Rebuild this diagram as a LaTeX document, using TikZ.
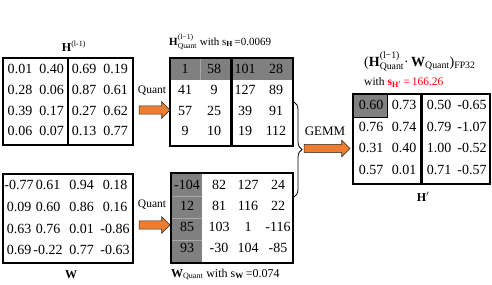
\documentclass[tikz,border=0pt]{standalone}
\usepackage{fontspec}
\usepackage{amsmath}
\setmainfont{Liberation Serif}
\usetikzlibrary{decorations.pathreplacing,shapes.arrows}
\definecolor{orng}{HTML}{ED7D31}
\definecolor{cellgray}{HTML}{808080}
\definecolor{sepgray}{HTML}{A8A8A8}
\definecolor{redtxt}{HTML}{FF0000}
\newcommand\mymatrix[4]{%
  \foreach \rowvals [count=\r from 0] in {#4} {
    \foreach \v [count=\c from 0] in \rowvals {
      \pgfmathsetmacro\cx{{#2}[\c]}
      \pgfmathsetmacro\cy{{#3}[\r]}
      \node[cell] (#1-\r-\c) at (\cx,\cy) {\v};
    }
  }%
}
\begin{document}
\begin{tikzpicture}[x=1pt,y=-1pt,
  mat/.style={draw, line width=2.4pt, inner sep=0pt, outer sep=0pt},
  divider/.style={line width=2.4pt},
  cell/.style={inner sep=0pt, text height=9.5pt, text depth=0pt, font=\fontsize{14}{14}\selectfont},
  lbl/.style={inner sep=0pt, font=\fontsize{11}{13}\selectfont},
  bigarrow/.style={single arrow, draw=black!85, line width=0.6pt, fill=orng,
    inner sep=3.8pt, single arrow head extend=4.2pt, single arrow head indent=0pt,
    minimum height=#1, outer sep=0pt},
  bracestyle/.style={decorate, decoration={brace, amplitude=8pt}, line width=0.8pt}
]
\useasboundingbox (0,0) rectangle (492,284);

% gray fills
\fill[cellgray] (170,58) rectangle (293,80);
\draw[sepgray, line width=0.8pt] (200,58) -- (200,80);
\fill[cellgray] (171,173) rectangle (202,263);
\draw[sepgray, line width=0.6pt] (171,196) -- (202,196) (171,218) -- (202,218) (171,240) -- (202,240);
\filldraw[fill=cellgray, draw=black, line width=0.8pt] (353,94) rectangle (387,117);

% boxes
\node[mat, minimum width=130pt, minimum height=87pt] (Hbox) at (68,101.5) {};
\node[mat, minimum width=123pt, minimum height=88pt] (Hqbox) at (231.5,102) {};
\node[mat, minimum width=130pt, minimum height=89pt] (Wbox) at (68,218.5) {};
\node[mat, minimum width=122pt, minimum height=90pt] (Wqbox) at (232,218) {};
\node[mat, minimum width=137pt, minimum height=90pt] (Pbox) at (421.5,139) {};
\draw[divider] (Hbox.north) -- (Hbox.south);
\draw[divider] (Hqbox.north) -- (Hqbox.south);
\draw[divider] (Pbox.north) -- (Pbox.south);

% cells
\mymatrix{h}{20,51.5,84,115.5}{69,90,110.5,131}{{0.01,0.40,0.69,0.19},{0.28,0.06,0.87,0.61},{0.39,0.17,0.27,0.62},{0.06,0.07,0.13,0.77}}
\mymatrix{hq}{185,214,245,276}{69,90,110.5,131}{{1,58,101,28},{41,9,127,89},{57,25,39,91},{9,10,19,112}}
\mymatrix{w}{19,48,81.5,115}{185,207,228.5,249.5}{{-0.77,0.61,0.94,0.18},{0.09,0.60,0.86,0.16},{0.63,0.76,0.01,-0.86},{0.69,-0.22,0.77,-0.63}}
\mymatrix{wq}{187,219,248,278}{185,206,227,248}{{-104,82,127,24},{12,81,116,22},{85,103,1,-116},{93,-30,104,-85}}
\mymatrix{p}{371,404,439,472}{105,127,148,170}{{0.60,0.73,0.50,-0.65},{0.76,0.74,0.79,-1.07},{0.31,0.40,1.00,-0.52},{0.57,0.01,0.71,-0.57}}

% labels
\node[lbl, anchor=base, font=\fontsize{12}{14}\selectfont] (Hlbl) at (74,51) {$\textbf{H}^{\text{(l-1)}}$};
\node[lbl, anchor=base west] (Hqlbl) at (169,45) {$\textbf{H}^{\text{(l−1)}}_{\text{Quant}}$ with s$_{\textbf{H}}$\,=0.0069};
\node[lbl, anchor=base, font=\fontsize{12}{14}\selectfont] (Wlbl) at (71,278) {\textbf{W}};
\node[lbl, anchor=base west, font=\fontsize{12}{14}\selectfont] (Wqlbl) at (171,277) {$\textbf{W}_{\text{Quant}}$ with s$_{\textbf{W}}$\,=0.074};
\node[lbl, anchor=base west, font=\fontsize{14}{16}\selectfont] (Plbl) at (364,66) {($\textbf{H}^{\text{(l−1)}}_{\text{Quant}}$·\,$\textbf{W}_{\text{Quant}}$)$_{\text{FP32}}$};
\node[lbl, anchor=base west, font=\fontsize{11.5}{14}\selectfont] (Pslbl) at (364,85) {with \textcolor{redtxt}{\textbf{s}$_{\textbf{H}'}$\,=\,166.26}};
\node[lbl, anchor=base, font=\fontsize{12}{14}\selectfont] (Pname) at (423,201) {$\textbf{H}'$};

% quantization arrows
\node[lbl, font=\fontsize{11.5}{13}\selectfont] (q1txt) at (152,91) {Quant};
\node[bigarrow=31pt] (q1) at (152.5,110) {};
\node[lbl, font=\fontsize{11.5}{13}\selectfont] (q2txt) at (152,205) {Quant};
\node[bigarrow=31pt] (q2) at (152.5,225) {};

% brace and GEMM
\coordinate (bt) at (294,102);
\coordinate (bb) at (294,197);
\draw[bracestyle] (bt) -- (bb);
\node[lbl, font=\fontsize{13}{15}\selectfont] (gtxt) at (325,131) {GEMM};
\node[bigarrow=46pt] (g) at (325,148.5) {};
\end{tikzpicture}
\end{document}
